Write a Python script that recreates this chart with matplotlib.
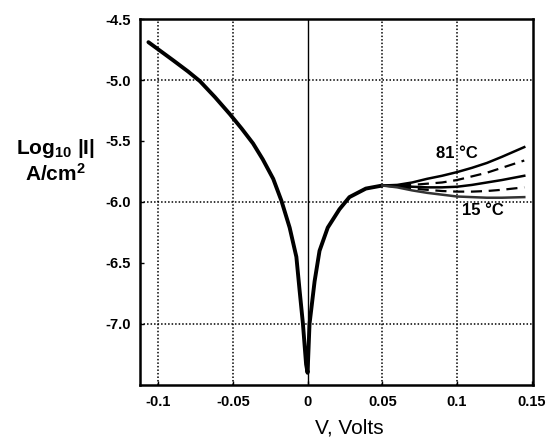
import matplotlib
matplotlib.use('Agg')
import numpy as np
import matplotlib.pyplot as plt

# common branch (V in volts, log10|I|)
v_main = [-0.1065, -0.0898, -0.080, -0.072, -0.062, -0.052, -0.044, -0.0365,
          -0.030, -0.023, -0.0175, -0.012, -0.0075, -0.0053, -0.0031, -0.001, 0.0,
          0.0013, 0.0047, 0.008, 0.0135, 0.0213, 0.028, 0.039, 0.05]
l_main = [-4.69, -4.84, -4.93, -5.01, -5.14, -5.28, -5.40, -5.52,
          -5.65, -5.81, -5.99, -6.21, -6.45, -6.73, -7.0, -7.33, -7.40,
          -7.0, -6.65, -6.40, -6.21, -6.06, -5.96, -5.89, -5.865]

# temperature fan, 81 C on top down to 15 C
v_fan = [0.05, 0.06, 0.07, 0.08, 0.09, 0.1, 0.11, 0.12, 0.13, 0.145]
l_81 = [-5.865, -5.86, -5.84, -5.81, -5.785, -5.755, -5.72, -5.68, -5.63, -5.55]
l_t2 = [-5.865, -5.865, -5.86, -5.85, -5.84, -5.82, -5.79, -5.76, -5.72, -5.66]
l_t3 = [-5.865, -5.87, -5.875, -5.88, -5.88, -5.875, -5.86, -5.84, -5.82, -5.785]
l_t4 = [-5.865, -5.875, -5.89, -5.90, -5.91, -5.915, -5.915, -5.91, -5.90, -5.88]
l_15 = [-5.865, -5.88, -5.905, -5.925, -5.94, -5.955, -5.96, -5.965, -5.965, -5.96]

xticks = [-0.1, -0.05, 0, 0.05, 0.1, 0.15]
xtick_labels = ['-0.1', '-0.05', '0', '0.05', '0.1', '0.15']
yticks = [-4.5, -5.0, -5.5, -6.0, -6.5, -7.0]
ytick_labels = ['-4.5', '-5.0', '-5.5', '-6.0', '-6.5', '-7.0']

plt.rcParams['font.family'] = ['Liberation Sans', 'DejaVu Sans']
plt.rcParams['mathtext.default'] = 'regular'

fig = plt.figure(figsize=(5.52, 4.42), dpi=100)
ax = fig.add_axes([0.254, 0.129, 0.712, 0.828])

# grid: dotted, except the solid line at V = 0
for gx in [-0.1, -0.05, 0.05, 0.1]:
    ax.axvline(gx, color='black', lw=1.1, ls=(0, (1, 1.3)), zorder=1)
for gy in [-5.0, -6.0, -7.0]:
    ax.axhline(gy, color='black', lw=1.1, ls=(0, (1, 1.3)), zorder=1)
ax.axvline(0, color='black', lw=1.0, zorder=1)

ax.plot(v_main, l_main, color='black', lw=2.8, solid_joinstyle='round',
        solid_capstyle='round', zorder=3)
ax.plot(v_fan, l_81, color='black', lw=1.8, zorder=3)
ax.plot(v_fan, l_t2, color='black', lw=1.6, ls=(0, (5, 3)), zorder=3)
ax.plot(v_fan, l_t3, color='black', lw=1.8, zorder=3)
ax.plot(v_fan, l_t4, color='black', lw=1.6, ls=(0, (5, 3)), zorder=3)
ax.plot(v_fan, l_15, color='#333333', lw=1.8, zorder=3)

ax.text(0.1, -5.6, '81 °C', fontsize=12, fontweight='bold', ha='center', va='center')
ax.text(0.117, -6.07, '15 °C', fontsize=12, fontweight='bold', ha='center', va='center')

ax.set_xlim(-0.112, 0.151)
ax.set_ylim(-7.5, -4.5)
ax.set_xticks(xticks)
ax.set_xticklabels(xtick_labels)
ax.set_yticks(yticks)
ax.set_yticklabels(ytick_labels)
ax.tick_params(direction='in', length=3, width=1, labelsize=10.5, pad=7)
for lab in ax.get_xticklabels() + ax.get_yticklabels():
    lab.set_fontweight('bold')
for sp in ax.spines.values():
    sp.set_linewidth(1.8)

ax.text(0.532, -0.118, 'V, Volts', transform=ax.transAxes, fontsize=15,
        ha='center', va='center')
fig.text(55/552, 1 - 161/442, 'Log$_{10}$ |I|\nA/cm$^2$', fontsize=15,
         fontweight='bold', ha='center', va='center', linespacing=1.2)

fig.savefig('out.png', dpi=100)
